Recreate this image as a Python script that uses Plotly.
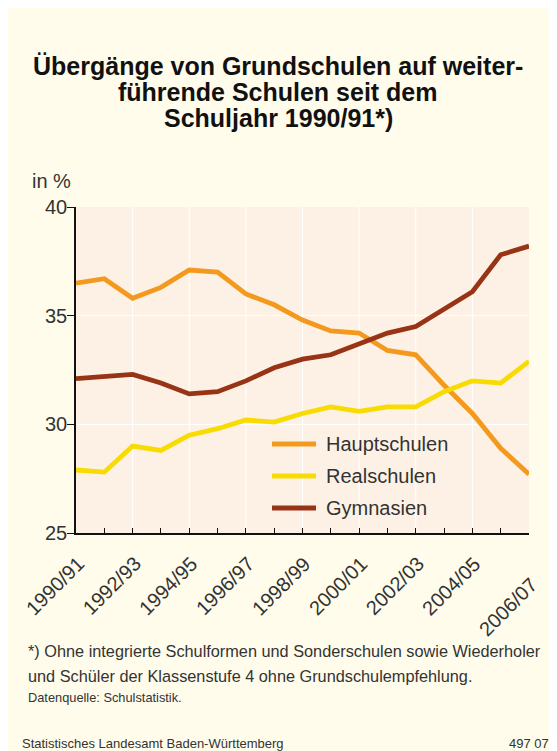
import plotly.graph_objects as go

years = ["1990/91", "1991/92", "1992/93", "1993/94", "1994/95", "1995/96", "1996/97",
         "1997/98", "1998/99", "1999/00", "2000/01", "2001/02", "2002/03", "2003/04",
         "2004/05", "2005/06", "2006/07"]
hauptschulen = [36.5, 36.7, 35.8, 36.3, 37.1, 37.0, 36.0, 35.5, 34.8, 34.3, 34.2, 33.4,
                33.2, 31.8, 30.5, 28.9, 27.7]
realschulen = [27.9, 27.8, 29.0, 28.8, 29.5, 29.8, 30.2, 30.1, 30.5, 30.8, 30.6, 30.8,
               30.8, 31.5, 32.0, 31.9, 32.9]
gymnasien = [32.1, 32.2, 32.3, 31.9, 31.4, 31.5, 32.0, 32.6, 33.0, 33.2, 33.7, 34.2,
             34.5, 35.3, 36.1, 37.8, 38.2]
y_ticks = [25, 30, 35, 40]

series = [("Hauptschulen", hauptschulen, "#F3991E"),
          ("Realschulen", realschulen, "#F8DB00"),
          ("Gymnasien", gymnasien, "#983416")]

FONT = "Liberation Sans, Arial, sans-serif"
x_idx = list(range(len(years)))

# plot area in figure pixels
L, R, T, B = 68, 521, 199, 525
W, H = R - L, B - T


def px(fx):
    return (fx - L) / W


def py(fy):
    return (B - fy) / H


fig = go.Figure()
for name, vals, col in series:
    fig.add_trace(go.Scatter(x=x_idx, y=vals, mode="lines", name=name,
                             line=dict(color=col, width=4.8), showlegend=False))

last = len(years) - 1
fig.update_layout(
    width=557, height=751,
    margin=dict(l=L, r=557 - R, t=T, b=751 - B),
    paper_bgcolor="#FFFCEB",
    plot_bgcolor="#FDF1E6",
    font=dict(family=FONT, color="#222222"),
    showlegend=False,
    xaxis=dict(range=[0, last], tickvals=x_idx, showticklabels=False,
               ticks="inside", ticklen=5, tickcolor="#111111", tickwidth=1.3,
               showline=True, linecolor="#111111", linewidth=1.6,
               showgrid=False, zeroline=False),
    yaxis=dict(range=[25, 40], tickvals=y_ticks, ticks="outside", ticklen=7,
               tickcolor="#111111", tickwidth=1.3, showline=True, linecolor="#111111",
               linewidth=1.6, gridcolor="#FFFFFF", gridwidth=1, ticklabelstandoff=-4,
               tickfont=dict(size=20, color="#333333"), zeroline=False),
)

# rotated x labels every two school years; the last one sits lower, as in the original
for i, lab in enumerate(years):
    if i % 2 != 0:
        continue
    fig.add_annotation(text=lab, xref="x", yref="y", x=i, y=25,
                       xanchor="right", yanchor="top", xshift=15,
                       yshift=-38 if i == last else -17,
                       textangle=-45, showarrow=False,
                       font=dict(size=20, color="#333333"))

# vertical white gridlines every two school years
for i in range(2, last, 2):
    fig.add_shape(type="line", xref="x", yref="y", x0=i, x1=i, y0=25, y1=40,
                  line=dict(color="#FFFFFF", width=1), layer="below")

# legend drawn inside the plot
for k, (name, vals, col) in enumerate(series):
    cy = 436 + 32 * k
    fig.add_shape(type="line", xref="paper", yref="paper", x0=px(264), x1=px(308),
                  y0=py(cy), y1=py(cy), line=dict(color=col, width=5))
    fig.add_annotation(text=name, xref="paper", yref="paper", x=px(316), y=py(cy),
                       xanchor="left", yanchor="middle", showarrow=False,
                       font=dict(size=20, color="#333333"))

title_lines = ["Übergänge von Grundschulen auf weiter-", "führende Schulen seit dem",
               "Schuljahr 1990/91*)"]
for k, line in enumerate(title_lines):
    fig.add_annotation(text=f"<b>{line}</b>", xref="paper", yref="paper",
                       x=px(270), y=py(58 + 26 * k), xanchor="center", yanchor="middle",
                       showarrow=False, font=dict(size=25, color="#111111", family=FONT))

fig.add_annotation(text="in %", xref="paper", yref="paper", x=px(22), y=py(173),
                   xanchor="left", yanchor="middle", showarrow=False,
                   font=dict(size=20, color="#333333"))

notes = ["*) Ohne integrierte Schulformen und Sonderschulen sowie Wiederholer",
         "und Schüler der Klassenstufe 4 ohne Grundschulempfehlung."]
for k, line in enumerate(notes):
    fig.add_annotation(text=line, xref="paper", yref="paper", x=px(18), y=py(643 + 25 * k),
                       xanchor="left", yanchor="middle", showarrow=False,
                       font=dict(size=16.3, color="#333333"))
fig.add_annotation(text="Datenquelle: Schulstatistik.", xref="paper", yref="paper",
                   x=px(18), y=py(689), xanchor="left", yanchor="middle", showarrow=False,
                   font=dict(size=12.8, color="#333333"))
fig.add_annotation(text="Statistisches Landesamt Baden-Württemberg", xref="paper",
                   yref="paper", x=px(12), y=py(735), xanchor="left", yanchor="middle",
                   showarrow=False, font=dict(size=13, color="#333333"))
fig.add_annotation(text="497 07", xref="paper", yref="paper", x=px(543), y=py(735),
                   xanchor="right", yanchor="middle", showarrow=False,
                   font=dict(size=13, color="#333333"))

fig.write_html("out.html")
